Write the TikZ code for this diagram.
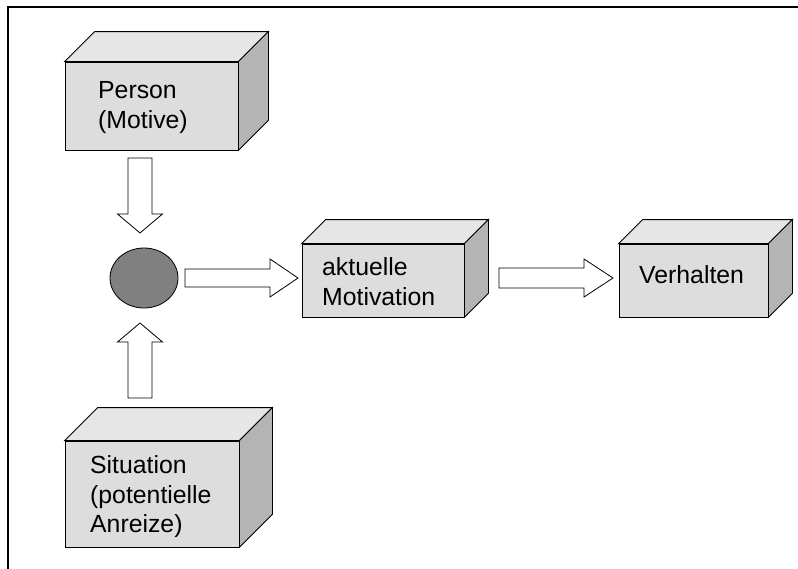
\documentclass[tikz,border=0pt]{standalone}
\usepackage{fontspec}
\setmainfont{Liberation Sans}
\usetikzlibrary{calc,shapes.geometric}
\definecolor{facefront}{HTML}{DDDDDD}
\definecolor{facetop}{HTML}{E6E6E6}
\definecolor{faceside}{HTML}{B4B4B4}
\definecolor{dotgray}{HTML}{808080}
\tikzset{
  boxline/.style={draw=black,line width=0.8pt,line join=miter},
  frontface/.style={boxline,fill=facefront,rectangle,inner sep=0pt},
  lbl/.style={align=left,inner sep=0pt,font=\fontsize{24.8}{29.5}\selectfont},
  arrline/.style={draw=black,line width=0.8pt,fill=white,line join=miter},
  dot/.style={ellipse,draw=black,line width=0.8pt,fill=dotgray,inner sep=0pt,minimum width=68pt,minimum height=60pt},
  frameline/.style={draw=black,line width=2pt}
}
\newcommand{\cubebox}[2]{%
  \draw[boxline,fill=facetop] (#1.north west) -- ++(#2,-#2) -- ($(#1.north east)+(#2,-#2)$) -- (#1.north east) -- cycle;
  \draw[boxline,fill=faceside] (#1.north east) -- ++(#2,-#2) -- ($(#1.south east)+(#2,-#2)$) -- (#1.south east) -- cycle;
}
\newcommand{\blockarrow}[5]{%
  \coordinate (#1-#2-h) at ($(#2)!#5!(#1)$);
  \draw[arrline] ($(#1)!#3!90:(#2)$) -- ($(#1-#2-h)!#3!90:(#2)$) -- ($(#1-#2-h)!#4!90:(#2)$) -- (#2) -- ($(#1-#2-h)!#4!-90:(#2)$) -- ($(#1-#2-h)!#3!-90:(#2)$) -- ($(#1)!#3!-90:(#2)$) -- cycle;
}
\begin{document}
\begin{tikzpicture}[x=1pt,y=-1pt]
\useasboundingbox (0,0) rectangle (798,568);
\fill[white] (0,0) rectangle (798,568);
% frame
\coordinate (fbl) at (8,570);
\coordinate (ftl) at (8,7);
\coordinate (ftr) at (800,7);
\draw[frameline] (fbl) -- (ftl) -- (ftr);
% boxes
\node[frontface,minimum width=173pt,minimum height=88pt] (person) at (151.5,106) {};
\cubebox{person}{30}
\node[lbl,anchor=base west] (persontext) at (98,128) {Person\\(Motive)};

\node[frontface,minimum width=174pt,minimum height=106pt] (situation) at (152,494) {};
\cubebox{situation}{33}
\node[lbl,anchor=base west] (situationtext) at (90,532.5) {Situation\\(potentielle\\Anreize)};

\node[frontface,minimum width=162pt,minimum height=73pt] (motivation) at (383,280.5) {};
\cubebox{motivation}{24}
\node[lbl,anchor=base west] (motivationtext) at (322,305) {aktuelle\\Motivation};

\node[frontface,minimum width=149pt,minimum height=73pt] (verhalten) at (693.5,280.5) {};
\cubebox{verhalten}{24}
\node[lbl,anchor=base west] (verhaltentext) at (639,283) {Verhalten};

% circle
\node[dot] (dot) at (144,278) {};

% arrows
\coordinate (a1s) at (140,158);
\coordinate (a1e) at (140,233);
\blockarrow{a1s}{a1e}{12pt}{22.5pt}{19pt}
\coordinate (a2s) at (140,398);
\coordinate (a2e) at (140,323);
\blockarrow{a2s}{a2e}{12pt}{22.5pt}{19pt}
\coordinate (a3s) at (185,278);
\coordinate (a3e) at (298,278);
\blockarrow{a3s}{a3e}{9pt}{19pt}{28pt}
\coordinate (a4s) at (499,278);
\coordinate (a4e) at (613,278);
\blockarrow{a4s}{a4e}{10pt}{19pt}{29pt}
\end{tikzpicture}
\end{document}
